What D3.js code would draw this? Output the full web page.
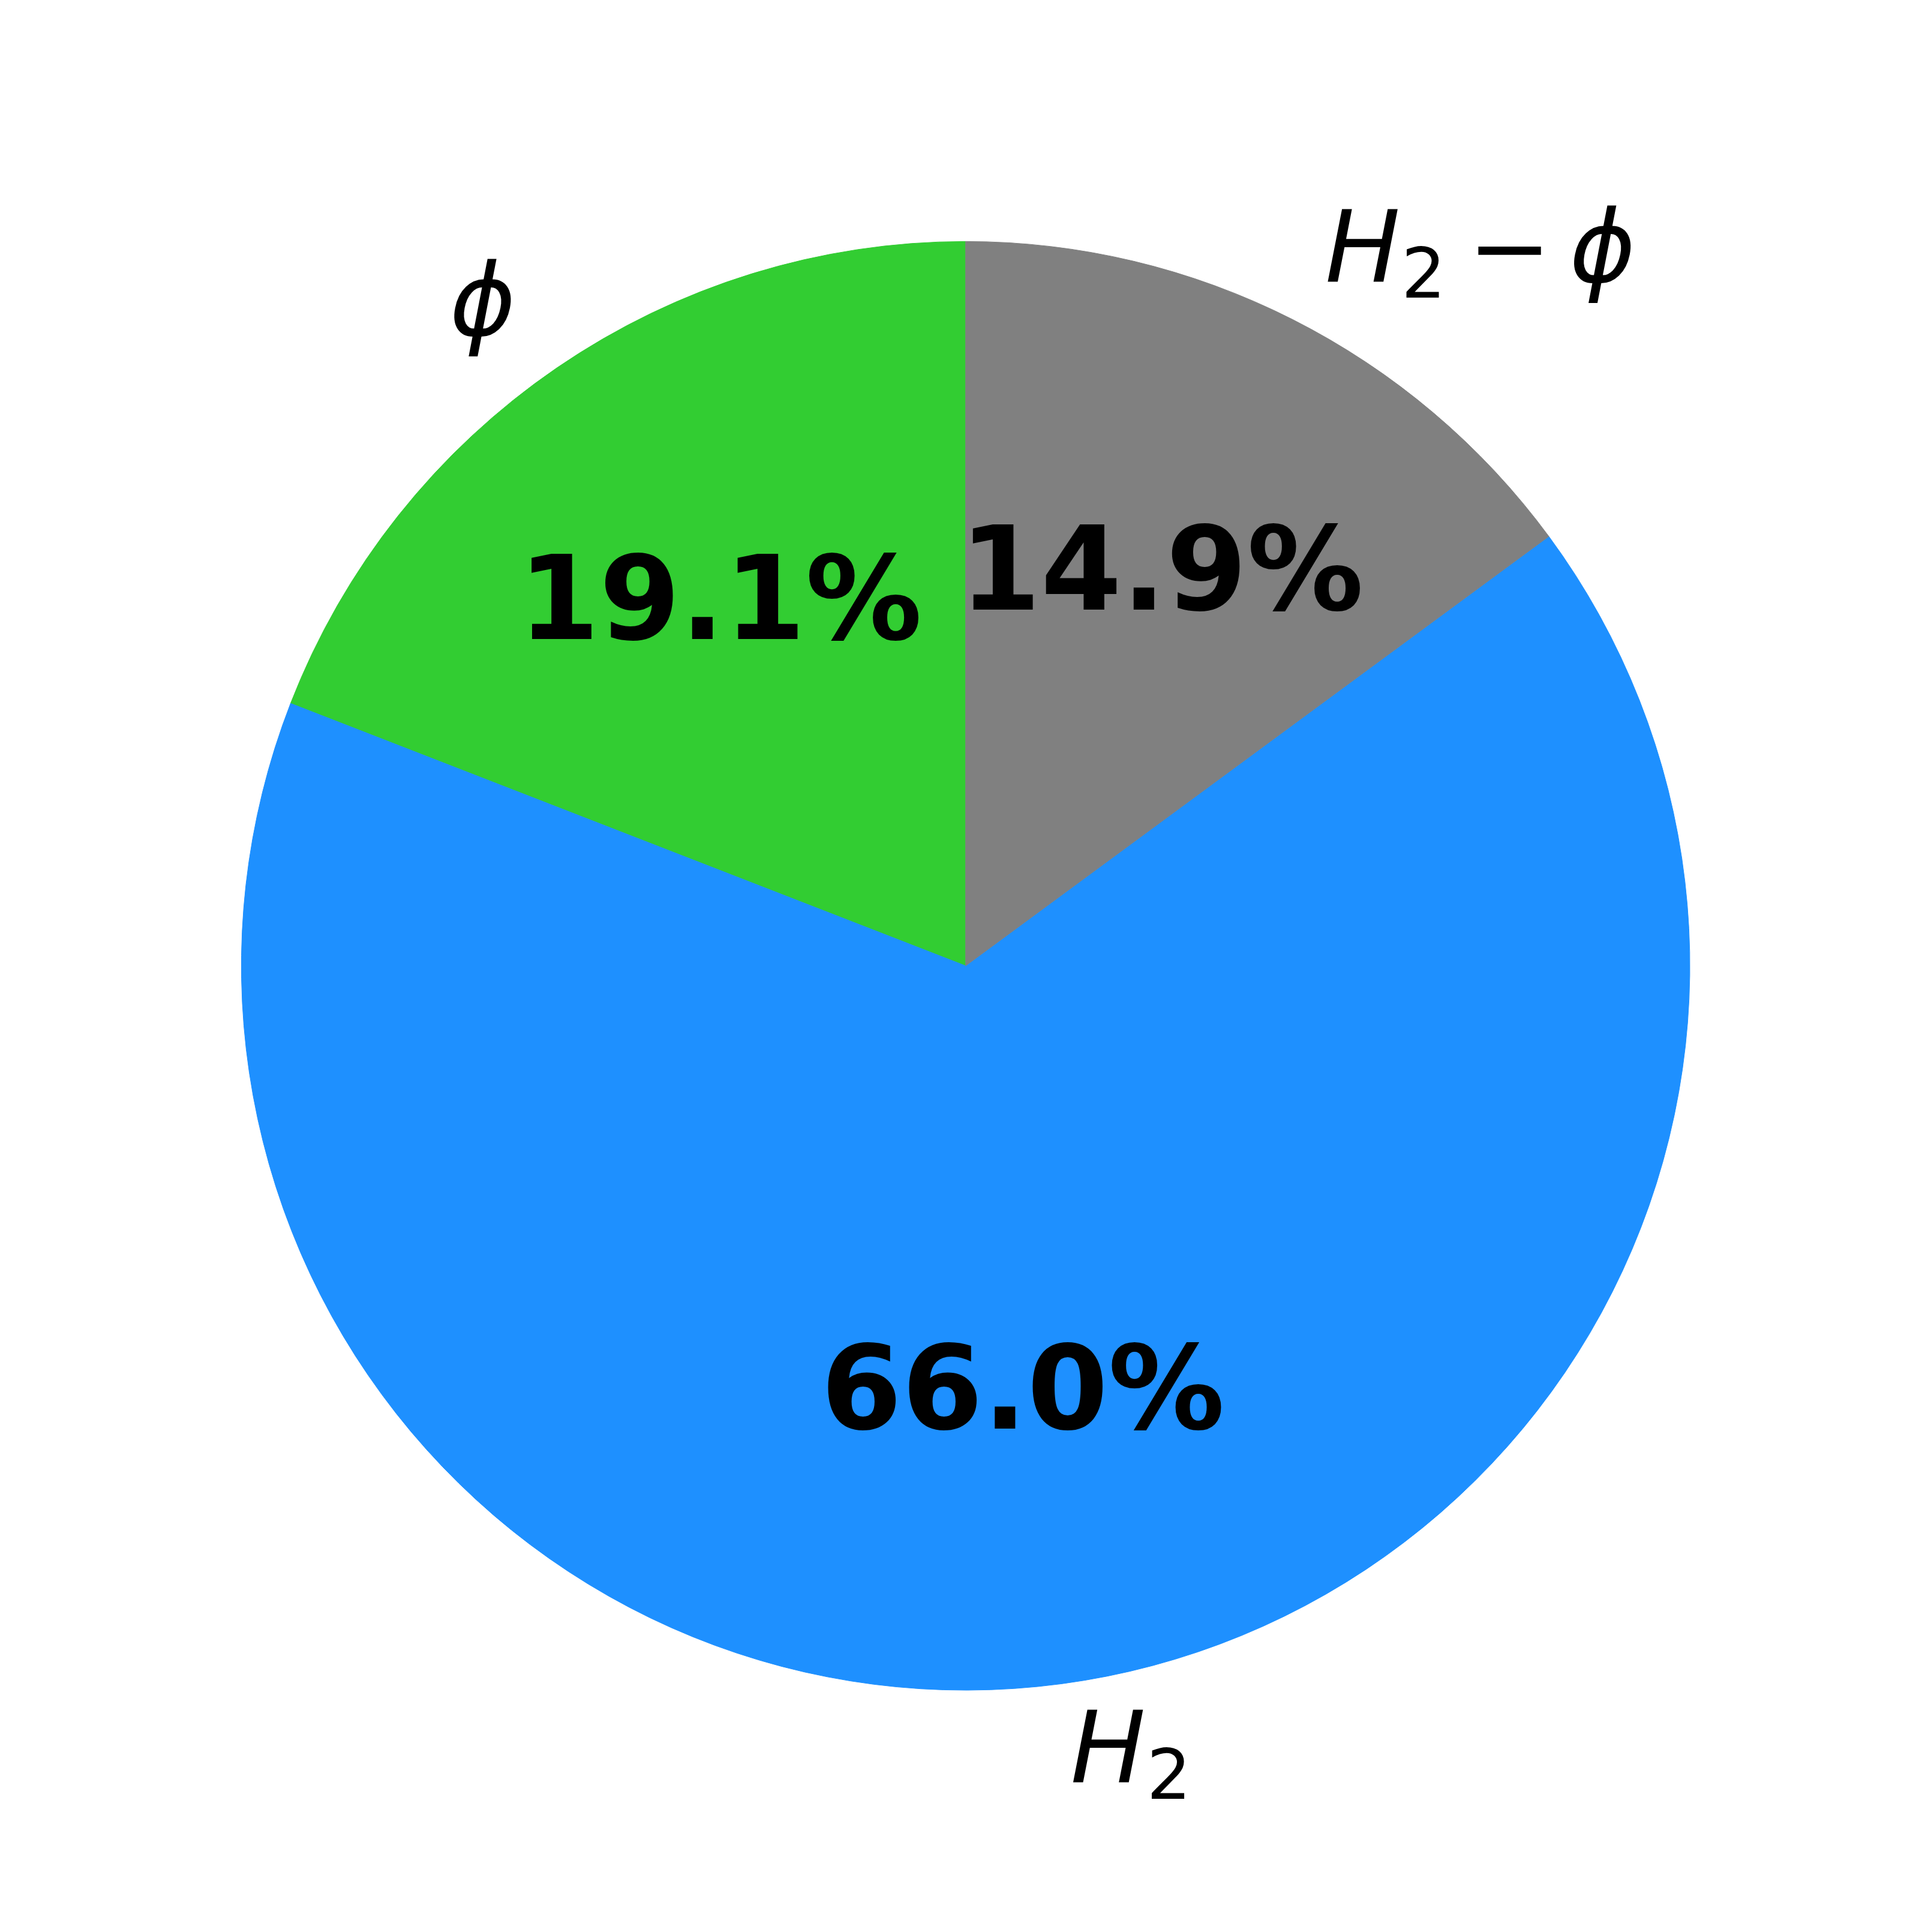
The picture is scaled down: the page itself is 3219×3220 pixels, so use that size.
<!DOCTYPE html>
<html>
<head>
<meta charset="utf-8">
<script src="https://cdn.jsdelivr.net/npm/d3@7"></script>
<style>
html, body { margin: 0; padding: 0; background: #ffffff; }
svg { display: block; }
</style>
</head>
<body>
<script>
// Data (matplotlib order, counter-clockwise from 12 o'clock)
const categories = ["phi", "H2", "H2-phi"];
const values = [19.1, 66.0, 14.9];
const colors = ["#32CD32", "#1E90FF", "#808080"];
const pctLabels = ["19.1%", "66.0%", "14.9%"];

const W = 3219, H = 3220;
const cx = 1609.7, cy = 1609.7, R = 1207.3;
const labelFs = 166.7, pctFs = 194;

const svg = d3.select("body").append("svg")
  .attr("width", W).attr("height", H)
  .attr("viewBox", `0 0 ${W} ${H}`);

svg.append("rect").attr("width", W).attr("height", H).attr("fill", "#ffffff");

const g = svg.append("g").attr("transform", `translate(${cx},${cy})`);

const pie = d3.pie().sort(null).value(d => d.v)
  .startAngle(0).endAngle(-2 * Math.PI);

const data = categories.map((c, i) => ({ c, v: values[i], col: colors[i], pct: pctLabels[i] }));
const arcs = pie(data);

const arc = d3.arc().innerRadius(0).outerRadius(R);
const pctArc = d3.arc().innerRadius(0.6 * R).outerRadius(0.6 * R);
const lblArc = d3.arc().innerRadius(1.1 * R).outerRadius(1.1 * R);

g.selectAll("path.slice").data(arcs).enter().append("path")
  .attr("class", "slice")
  .attr("d", arc)
  .attr("fill", d => d.data.col)
  .attr("stroke", d => d.data.col)
  .attr("stroke-width", 1);

// percentage labels
g.selectAll("text.pct").data(arcs).enter().append("text")
  .attr("class", "pct")
  .attr("x", d => pctArc.centroid(d)[0])
  .attr("y", d => pctArc.centroid(d)[1] + 53)
  .attr("text-anchor", "middle")
  .attr("font-family", "DejaVu Sans")
  .attr("font-weight", "bold")
  .attr("font-size", pctFs)
  .attr("fill", "#000")
  .text(d => d.data.pct);

// category labels (math style)
function addLabel(d) {
  const [x, y] = lblArc.centroid(d);
  const t = g.append("text")
    .attr("x", x)
    .attr("y", y + 0.27 * labelFs)
    .attr("text-anchor", x > 0 ? "start" : "end")
    .attr("font-family", "DejaVu Sans")
    .attr("font-size", labelFs)
    .attr("fill", "#000");
  const c = d.data.c;
  if (c === "phi") {
    t.append("tspan").attr("font-style", "italic").text("\u03D5");
  } else {
    t.append("tspan").attr("font-style", "italic").text("H");
    t.append("tspan").attr("font-size", labelFs * 0.7)
      .attr("dx", 0.01 * labelFs)
      .attr("dy", 0.16 * labelFs)
      .text("2");
    if (c === "H2-phi") {
      t.append("tspan").attr("dx", 0.22 * labelFs)
        .attr("dy", -0.16 * labelFs)
        .text("\u2212");
      t.append("tspan").attr("font-style", "italic")
        .attr("dx", 0.18 * labelFs)
        .text("\u03D5");
    }
  }
}
arcs.forEach(addLabel);
</script>
</body>
</html>
